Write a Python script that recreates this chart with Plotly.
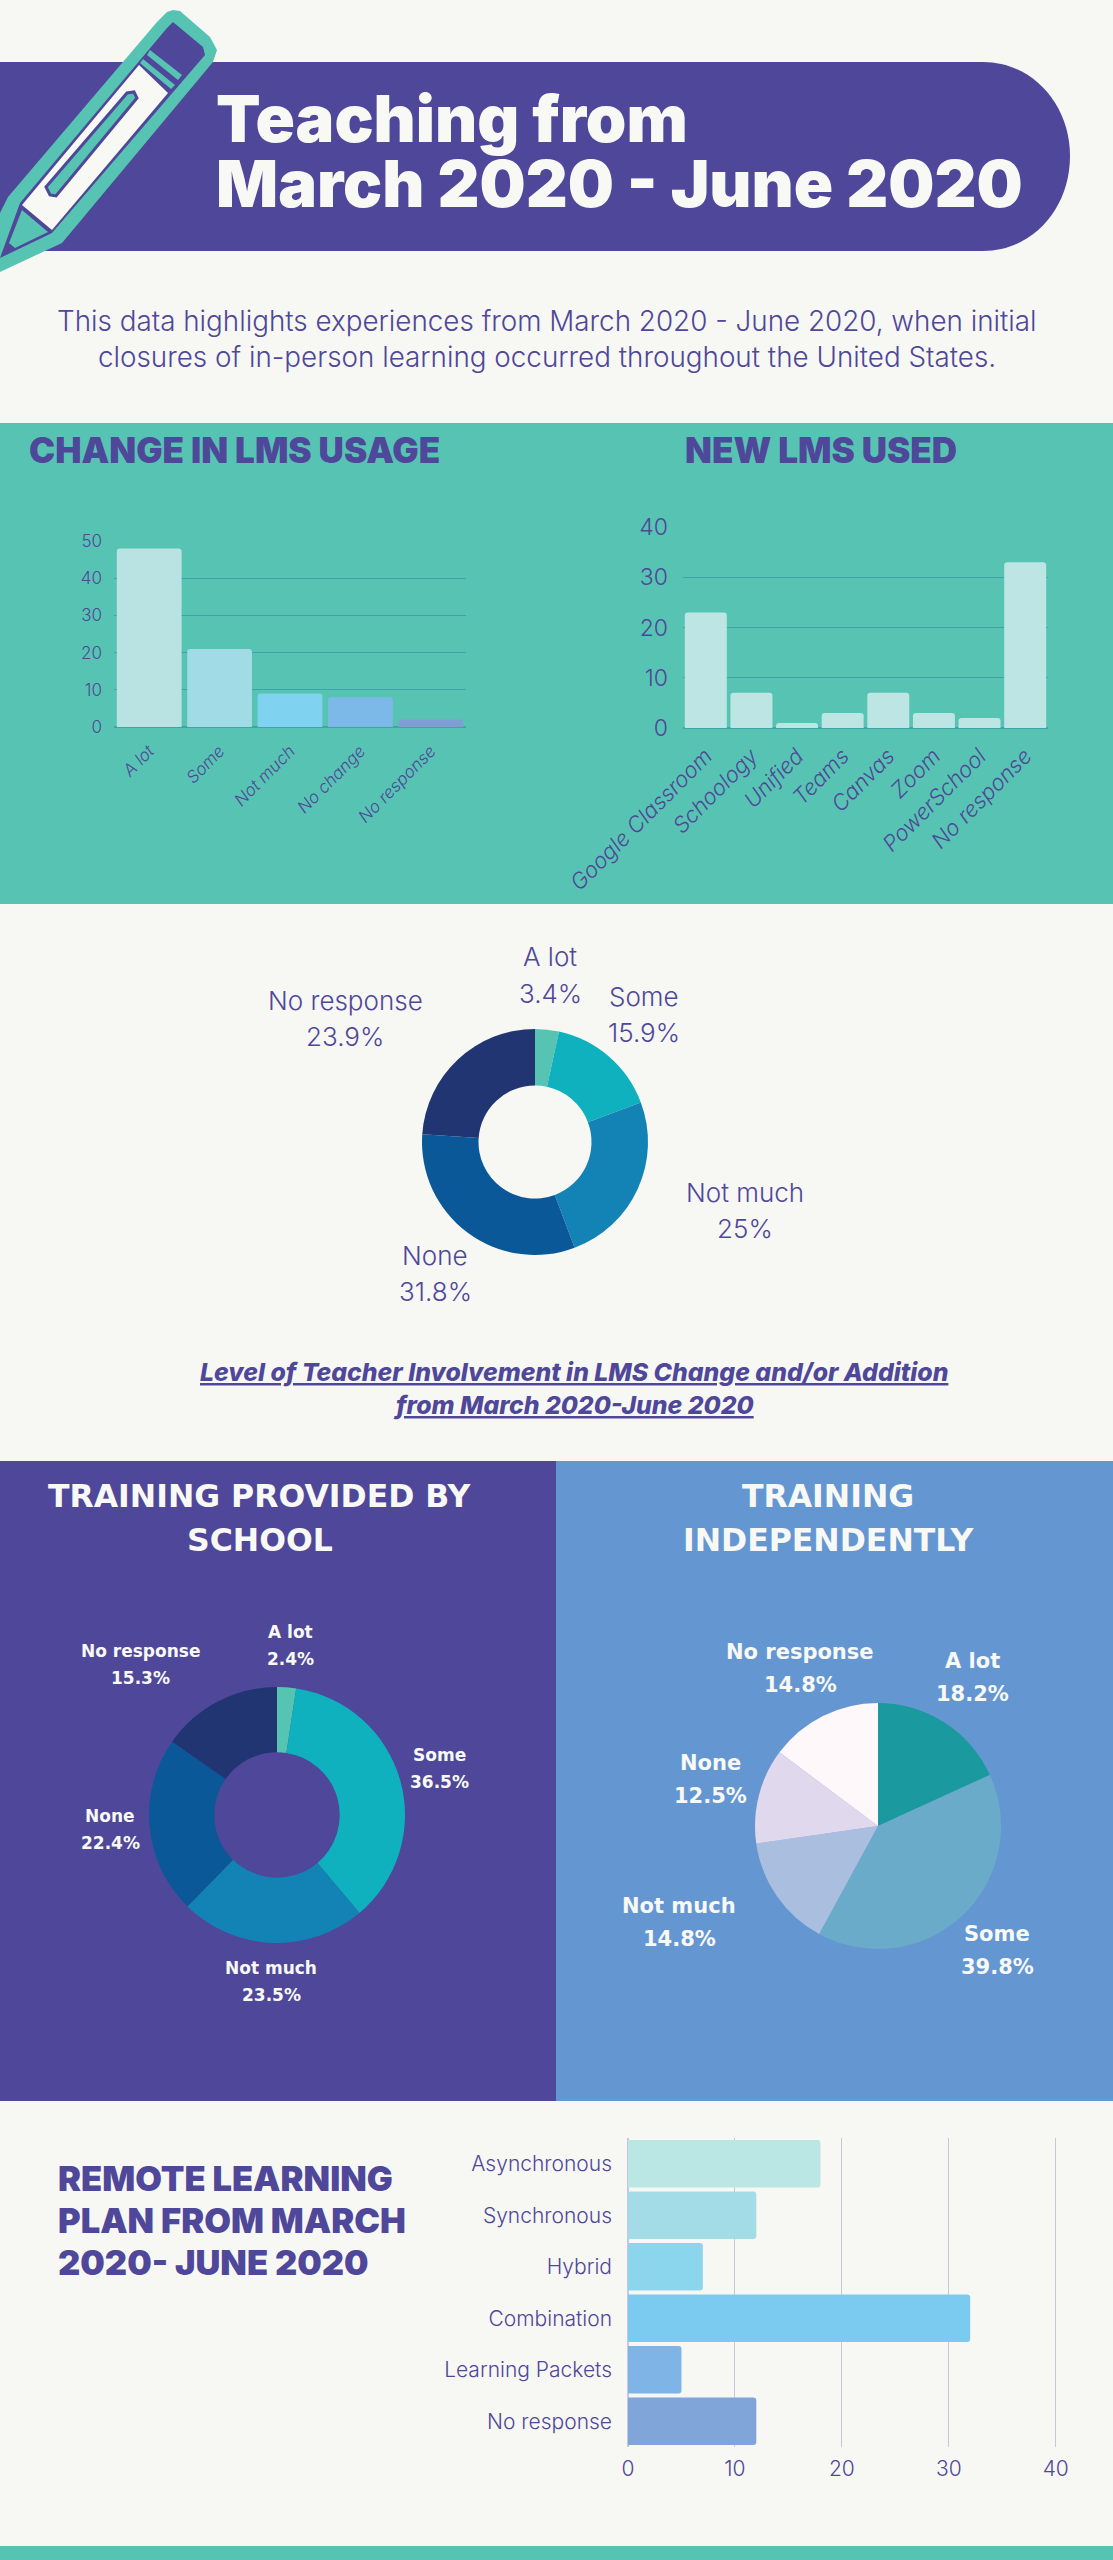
import plotly.graph_objects as go

W, H = 1113, 2560

PURPLE = "#4f4799"
TEAL = "#57c4b3"
BLUE = "#6497d2"
PAPER = "#f7f8f4"
WHITE = "#f8f9f5"

# chart data
usage_cats = ["A lot", "Some", "Not much", "No change", "No response"]
usage_vals = [48, 21, 9, 8, 2]
usage_colors = ["#b8e3e2", "#a1dbe5", "#7fd3f0", "#7cb9e8", "#7f9fd4"]

lms_cats = ["Google Classroom", "Schoology", "Unified", "Teams", "Canvas", "Zoom", "PowerSchool", "No response"]
lms_vals = [23, 7, 1, 3, 7, 3, 2, 33]

involve_labels = ["A lot", "Some", "Not much", "None", "No response"]
involve_vals = [3.4, 15.9, 25, 31.8, 23.9]
involve_text = ["3.4%", "15.9%", "25%", "31.8%", "23.9%"]

school_labels = ["A lot", "Some", "Not much", "None", "No response"]
school_vals = [2.4, 36.5, 23.5, 22.4, 15.3]
school_text = ["2.4%", "36.5%", "23.5%", "22.4%", "15.3%"]

indep_labels = ["A lot", "Some", "Not much", "None", "No response"]
indep_vals = [18.2, 39.8, 14.8, 12.5, 14.8]
indep_text = ["18.2%", "39.8%", "14.8%", "12.5%", "14.8%"]

plan_cats = ["Asynchronous", "Synchronous", "Hybrid", "Combination", "Learning Packets", "No response"]
plan_vals = [18, 12, 7, 32, 5, 12]
plan_colors = ["#bae6e3", "#a3dbe6", "#8bd6ec", "#7bcbf0", "#7fb4e6", "#7fa5d9"]

donut_colors = ["#57c4b3", "#10b1bf", "#1383b5", "#0b5899", "#203571"]
pie_colors = ["#1a9a9e", "#6aabca", "#aabfe0", "#e0d8ec", "#fff8fb"]

# where the pie labels sit, in page pixels
involve_pos = [(550, 975), (644, 1014), (745, 1210), (435, 1273), (345, 1018)]
school_pos = [(290, 1645), (439, 1768), (271, 1981), (110, 1829), (140, 1664)]
indep_pos = [(972, 1678), (997, 1951), (679, 1923), (710, 1780), (800, 1669)]


def px(x):
    return x / W


def py(y):
    return 1 - y / H


def poly(points):
    return "M " + " L ".join(f"{px(x):.5f} {py(y):.5f}" for x, y in points) + " Z"


def rect(fig, x0, y0, x1, y1, color):
    fig.add_shape(type="rect", xref="paper", yref="paper", x0=px(x0), x1=px(x1), y0=py(y0), y1=py(y1),
                  fillcolor=color, line_width=0, layer="below")


def shape(fig, points, color, line=None):
    fig.add_shape(type="path", xref="paper", yref="paper", path=poly(points), fillcolor=color,
                  line=dict(color=line or color, width=3 if line else 0), layer="below")


def label(fig, x, y, text, size, color=PURPLE, family="Inter", weight=400, anchor="center", **font):
    fig.add_annotation(xref="paper", yref="paper", x=px(x), y=py(y), text=text, showarrow=False,
                       xanchor=anchor, yanchor="middle", align=anchor,
                       font=dict(family=family, size=size, color=color, weight=weight, **font))


def pie_domain(cx, cy, r):
    return dict(x=[px(cx - r), px(cx + r)], y=[py(cy + r), py(cy - r)])


fig = go.Figure()

# background blocks
rect(fig, 0, 423, W, 904, TEAL)
rect(fig, 0, 1461, 556, 2101, PURPLE)
rect(fig, 556, 1461, W, 2101, BLUE)
rect(fig, 0, 2546, W, 2560, TEAL)

# header pill
fig.add_shape(type="path", xref="paper", yref="paper", fillcolor=PURPLE, line_width=0, layer="below",
              path=f"M 0 {py(62):.5f} L {px(983):.5f} {py(62):.5f} "
                   f"C {px(1032):.5f} {py(62):.5f} {px(1070):.5f} {py(104):.5f} {px(1070):.5f} {py(156):.5f} "
                   f"C {px(1070):.5f} {py(209):.5f} {px(1032):.5f} {py(251):.5f} {px(983):.5f} {py(251):.5f} "
                   f"L 0 {py(251):.5f} Z")

# pencil
shape(fig, [(167, 12), (173, 10), (180, 11), (210, 37), (217, 50), (213, 62), (62, 243), (0, 272), (0, 213), (8, 197), (157, 22)], TEAL)
shape(fig, [(173, 22), (203, 47), (205, 55), (52, 233), (0, 258), (20, 203), (167, 28)], PURPLE)
shape(fig, [(139, 65), (168, 93), (52, 230), (22, 205)], WHITE)
shape(fig, [(150, 50), (182, 75), (178, 80), (147, 55)], TEAL)
shape(fig, [(143, 59), (175, 85), (171, 89), (140, 63)], TEAL)
shape(fig, [(22, 210), (48, 232), (15, 248), (9, 243)], TEAL)
shape(fig, [(134, 92), (137, 98), (56, 196), (50, 195), (46, 187), (127, 93)], TEAL, line=PURPLE)

# header text
label(fig, 214, 118, "Teaching from", 65, WHITE, weight=900, anchor="left")
label(fig, 214, 183, "March 2020 - June 2020", 65, WHITE, weight=900, anchor="left")
label(fig, 547, 321, "This data highlights experiences from March 2020 - June 2020, when initial", 27.8, weight=300)
label(fig, 547, 357, "closures of in-person learning occurred throughout the United States.", 27.8, weight=300)

# section headings
label(fig, 27, 450, "CHANGE IN LMS USAGE", 35, weight=900, anchor="left")
label(fig, 821, 450, "NEW LMS USED", 35, weight=900)

label(fig, 574, 1372, "Level of Teacher Involvement in LMS Change and/or Addition", 24.8, weight=800, style="italic", lineposition="under")
label(fig, 574, 1405, "from March 2020-June 2020", 24.8, weight=800, style="italic", lineposition="under")

wide = "DejaVu Sans"
label(fig, 260, 1496, "TRAINING PROVIDED BY", 31.5, WHITE, wide, 700)
label(fig, 260, 1540, "SCHOOL", 31.5, WHITE, wide, 700)
label(fig, 828, 1496, "TRAINING", 31.5, WHITE, wide, 700)
label(fig, 828, 1540, "INDEPENDENTLY", 31.5, WHITE, wide, 700)

label(fig, 56, 2178, "REMOTE LEARNING", 34.5, weight=900, anchor="left")
label(fig, 56, 2220, "PLAN FROM MARCH", 34.5, weight=900, anchor="left")
label(fig, 56, 2262, "2020- JUNE 2020", 34.5, weight=900, anchor="left")

# bar charts
fig.add_trace(go.Bar(x=usage_cats, y=usage_vals, marker=dict(color=usage_colors, line_width=0), xaxis="x", yaxis="y"))
fig.add_trace(go.Bar(x=lms_cats, y=lms_vals, marker=dict(color="#bce5e3", line_width=0), xaxis="x2", yaxis="y2"))
fig.add_trace(go.Bar(y=plan_cats, x=plan_vals, orientation="h", marker=dict(color=plan_colors, line_width=0), xaxis="x3", yaxis="y3"))

# pies
fig.add_trace(go.Pie(labels=involve_labels, values=involve_vals, hole=0.5, sort=False, direction="clockwise",
                     textinfo="none", marker=dict(colors=donut_colors), domain=pie_domain(535, 1142, 113)))
fig.add_trace(go.Pie(labels=school_labels, values=school_vals, hole=0.49, sort=False, direction="clockwise",
                     textinfo="none", marker=dict(colors=donut_colors), domain=pie_domain(277, 1815, 128)))
fig.add_trace(go.Pie(labels=indep_labels, values=indep_vals, sort=False, direction="clockwise",
                     textinfo="none", marker=dict(colors=pie_colors), domain=pie_domain(878, 1826, 123)))

# pie labels
for name, pct, (x, y) in zip(involve_labels, involve_text, involve_pos):
    label(fig, x, y - 18, name, 26, weight=300)
    label(fig, x, y + 18, pct, 26, weight=300)
for name, pct, (x, y) in zip(school_labels, school_text, school_pos):
    label(fig, x, y - 13, name, 17, WHITE, wide, 700)
    label(fig, x, y + 14, pct, 17, WHITE, wide, 700)
for name, pct, (x, y) in zip(indep_labels, indep_text, indep_pos):
    label(fig, x, y - 17, name, 21, WHITE, wide, 700)
    label(fig, x, y + 16, pct, 21, WHITE, wide, 700)

grid_dark = "#3fa3a8"
grid_light = "#c6c9dd"

fig.update_layout(
    width=W, height=H,
    margin=dict(l=0, r=0, t=0, b=0, autoexpand=False),
    paper_bgcolor=PAPER, plot_bgcolor="rgba(0,0,0,0)",
    showlegend=False,
    bargap=0.08,
    barcornerradius=3,
    xaxis=dict(domain=[px(114), px(466)], tickangle=-45, showgrid=False, anchor="y",
               tickfont=dict(family="Inter", size=17, color=PURPLE, style="italic", weight=300), ticklabelstandoff=10),
    yaxis=dict(domain=[py(727), py(541)], range=[0, 50], dtick=10, gridcolor=grid_dark, zerolinecolor=grid_dark, anchor="x",
               tickfont=dict(family="Inter", size=17, color=PURPLE, weight=300), ticklabelstandoff=11),
    xaxis2=dict(domain=[px(683), px(1048)], tickangle=-45, showgrid=False, anchor="y2",
                tickfont=dict(family="Inter", size=22, color=PURPLE, style="italic", weight=300), ticklabelstandoff=10),
    yaxis2=dict(domain=[py(728), py(527)], range=[0, 40], dtick=10, gridcolor=grid_dark, zerolinecolor=grid_dark,
                anchor="x2", tickfont=dict(family="Inter", size=23, color=PURPLE, weight=300), ticklabelstandoff=14),
    xaxis3=dict(domain=[px(628), px(1060)], range=[0, 40.4], dtick=10, gridcolor=grid_light, zerolinecolor=grid_light,
                anchor="y3", tickfont=dict(family="Inter", size=21, color=PURPLE, weight=300), ticklabelstandoff=7),
    yaxis3=dict(domain=[py(2447), py(2138)], autorange="reversed", showgrid=False, anchor="x3",
                tickfont=dict(family="Inter", size=21, color=PURPLE, weight=300), ticklabelstandoff=15),
)
fig.update_xaxes(automargin=False)
fig.update_yaxes(automargin=False)

fig.write_html("out.html", config={"displayModeBar": False}, post_script="document.body.style.margin='0';")
